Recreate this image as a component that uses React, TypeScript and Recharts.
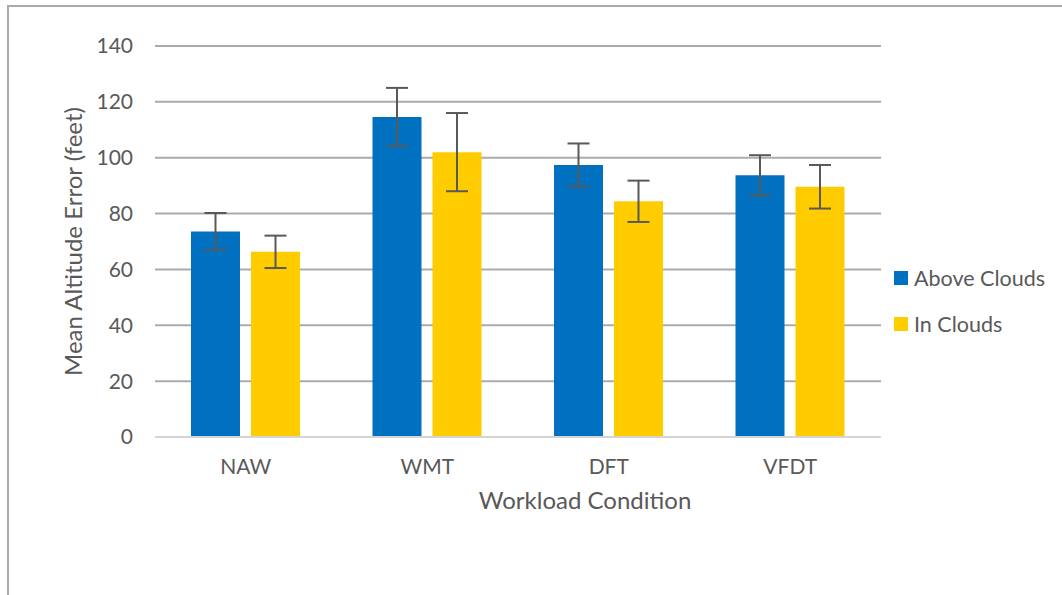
import React from "react";
import { BarChart, Bar, XAxis, YAxis, CartesianGrid, ErrorBar, Legend, Label } from "recharts";

const categories = ["NAW", "WMT", "DFT", "VFDT"];
const aboveClouds = [73.6, 114.6, 97.4, 93.7];
const inClouds = [66.3, 102.0, 84.4, 89.6];
const aboveErr = [6.6, 10.4, 7.7, 7.2];
const inErr = [5.8, 14.0, 7.4, 7.8];
const yTicks = [0, 20, 40, 60, 80, 100, 120, 140];

const seriesNames = ["Above Clouds", "In Clouds"];
const seriesColors = ["#0070C0", "#FFCC00"];

const FONT = "Lato, 'Open Sans', sans-serif";
const TEXT = "#595959";

const data = categories.map((name, i) => ({
    name,
    above: aboveClouds[i],
    inside: inClouds[i],
    aboveErr: aboveErr[i],
    inErr: inErr[i],
}));

function LegendBox() {
    return (
        <div style={{ fontFamily: FONT, fontSize: 21.5, color: TEXT }}>
            {seriesNames.map((n, i) => (
                <div key={n} style={{ display: "flex", alignItems: "center", height: 46 }}>
                    <span style={{ width: 14, height: 14, background: seriesColors[i], marginRight: 6, display: "inline-block" }} />
                    <span>{n}</span>
                </div>
            ))}
        </div>
    );
}

export default function App() {
    return (
        <div style={{ position: "absolute", left: 0, top: 0, width: 1062, height: 595, background: "#fff", overflow: "hidden" }}>
            <div style={{ position: "absolute", left: 7, top: 5, width: 1100, height: 700, borderTop: "2px solid #ababab", borderLeft: "2px solid #ababab" }} />
            <div style={{ position: "absolute", left: 0, top: 0 }}>
                <BarChart
                    width={1062}
                    height={595}
                    data={data}
                    margin={{ top: 46, right: 181, bottom: 128, left: 0 }}
                    barSize={49}
                    barGap={11}
                >
                    <CartesianGrid vertical={false} stroke="#ababab" strokeWidth={2} />
                    <XAxis
                        dataKey="name"
                        height={30}
                        axisLine={{ stroke: "#d4d4d4", strokeWidth: 2 }}
                        tickLine={false}
                        tickMargin={16}
                        tick={{ fill: TEXT, fontSize: 21, fontFamily: FONT }}
                    >
                        <Label
                            content={({ viewBox }: any) => (
                                <text
                                    x={viewBox.x + viewBox.width / 2 + 67}
                                    y={viewBox.y + 72}
                                    textAnchor="middle"
                                    fill={TEXT}
                                    fontSize={24}
                                    fontFamily={FONT}
                                >
                                    Workload Condition
                                </text>
                            )}
                        />
                    </XAxis>
                    <YAxis
                        domain={[0, 140]}
                        ticks={yTicks}
                        width={155}
                        axisLine={false}
                        tickLine={false}
                        tickMargin={16}
                        tick={{ fill: TEXT, fontSize: 21, fontFamily: FONT }}
                    >
                        <Label
                            content={({ viewBox }: any) => {
                                const cx = viewBox.x + 72;
                                const cy = viewBox.y + viewBox.height / 2;
                                return (
                                    <text
                                        x={cx}
                                        y={cy}
                                        textAnchor="middle"
                                        dominantBaseline="central"
                                        transform={`rotate(-90 ${cx} ${cy})`}
                                        fill={TEXT}
                                        fontSize={24}
                                        fontFamily={FONT}
                                    >
                                        Mean Altitude Error (feet)
                                    </text>
                                );
                            }}
                        />
                    </YAxis>
                    <Legend
                        layout="vertical"
                        align="center"
                        verticalAlign="middle"
                        wrapperStyle={{ left: 894, top: 255, width: 168 }}
                        content={() => <LegendBox />}
                    />
                    <Bar dataKey="above" name={seriesNames[0]} fill={seriesColors[0]} isAnimationActive={false}>
                        <ErrorBar dataKey="aboveErr" width={11} stroke="#595959" strokeWidth={2} direction="y" isAnimationActive={false} />
                    </Bar>
                    <Bar dataKey="inside" name={seriesNames[1]} fill={seriesColors[1]} isAnimationActive={false}>
                        <ErrorBar dataKey="inErr" width={11} stroke="#595959" strokeWidth={2} direction="y" isAnimationActive={false} />
                    </Bar>
                </BarChart>
            </div>
        </div>
    );
}
